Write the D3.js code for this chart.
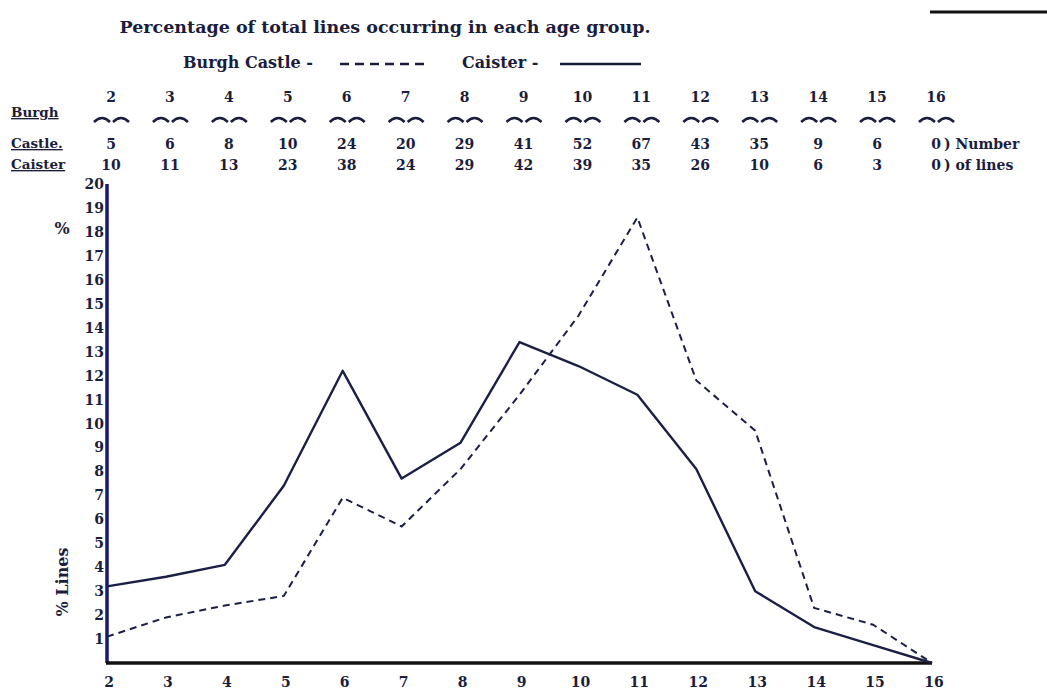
<!DOCTYPE html>
<html>
<head>
<meta charset="utf-8">
<script src="https://cdn.jsdelivr.net/npm/d3@7"></script>
<style>
  body { margin: 0; background: #fff; overflow: hidden; }
  text { font-family: "DejaVu Serif", "Liberation Serif", serif; font-weight: bold; fill: #1b1d3d; }
</style>
</head>
<body>
<div id="chart"></div>
<script>
// age groups
const ages = [2, 3, 4, 5, 6, 7, 8, 9, 10, 11, 12, 13, 14, 15, 16]
// number of lines in each age group (header table)
const burghCounts = ["5", "6", "8", "10", "24", "20", "29", "41", "52", "67", "43", "35", "9", "6", "0"]
const caisterCounts = ["10", "11", "13", "23", "38", "24", "29", "42", "39", "35", "26", "10", "6", "3", "0"]
// percentage of total lines
const burghPct = [1.1, 1.9, 2.4, 2.8, 6.9, 5.7, 8.1, 11.2, 14.5, 18.6, 11.8, 9.7, 2.3, 1.6, 0]
const caisterPct = [3.2, 3.6, 4.1, 7.4, 12.2, 7.7, 9.2, 13.4, 12.4, 11.2, 8.1, 3.0, 1.5, 0.75, 0]
const yTicks = d3.range(1, 21)

const width = 1047, height = 693
const margin = {top: 184, right: 115, bottom: 30, left: 107}
const ink = "#1b1d3d"

const svg = d3.select("#chart").append("svg")
    .attr("width", width)
    .attr("height", height)

const x = d3.scaleLinear()
    .domain([2, 16])
    .range([margin.left, width - margin.right])
const y = d3.scaleLinear()
    .domain([0, 20])
    .range([height - margin.bottom, margin.top])

// title + legend
svg.append("text")
    .attr("x", 385).attr("y", 33)
    .attr("text-anchor", "middle")
    .style("font-size", "17.5px")
    .text("Percentage of total lines occurring in each age group.")

svg.append("text")
    .attr("x", 183).attr("y", 68)
    .style("font-size", "16px")
    .text("Burgh Castle -")
svg.append("line")
    .attr("x1", 340).attr("x2", 425).attr("y1", 64).attr("y2", 64)
    .attr("stroke", ink).attr("stroke-width", 2.5)
    .attr("stroke-dasharray", "9,6")
svg.append("text")
    .attr("x", 462).attr("y", 68)
    .style("font-size", "16px")
    .text("Caister -")
svg.append("line")
    .attr("x1", 560).attr("x2", 641).attr("y1", 64).attr("y2", 64)
    .attr("stroke", ink).attr("stroke-width", 2.5)

// scan mark top right
svg.append("line")
    .attr("x1", 930).attr("x2", 1047).attr("y1", 12).attr("y2", 12)
    .attr("stroke", "#111").attr("stroke-width", 3)

// header table
const head = svg.append("g")
head.selectAll(".age-head")
  .data(ages)
  .join("text")
    .attr("class", "age-head")
    .attr("x", d => x(d) + 4)
    .attr("y", 102)
    .attr("text-anchor", "middle")
    .style("font-size", "14px")
    .text(d => d)

const arc = "m-18,0 q8,-8 16,0 m3,0 q8,-8 16,0"
head.selectAll(".brace")
  .data(ages)
  .join("path")
    .attr("class", "brace")
    .attr("d", d => `M${x(d) + 5},122 ${arc}`)
    .attr("fill", "none")
    .attr("stroke", ink)
    .attr("stroke-width", 2.5)

head.selectAll(".burgh-n")
  .data(burghCounts)
  .join("text")
    .attr("class", "burgh-n")
    .attr("x", (d, i) => x(ages[i]) + 4)
    .attr("y", 149)
    .attr("text-anchor", "middle")
    .style("font-size", "14px")
    .text(d => d)

head.selectAll(".caister-n")
  .data(caisterCounts)
  .join("text")
    .attr("class", "caister-n")
    .attr("x", (d, i) => x(ages[i]) + 4)
    .attr("y", 170)
    .attr("text-anchor", "middle")
    .style("font-size", "14px")
    .text(d => d)

const rowLabels = [["Burgh", 117], ["Castle.", 148], ["Caister", 169]]
rowLabels.forEach(([t, yy]) => {
  head.append("text")
      .attr("x", 11).attr("y", yy)
      .style("font-size", "13.5px")
      .style("text-decoration", "underline")
      .text(t)
})
head.append("text").attr("x", 944).attr("y", 149)
    .style("font-size", "14px").text(") Number")
head.append("text").attr("x", 944).attr("y", 170)
    .style("font-size", "14px").text(") of lines")

// axes
const yAxis = svg.append("g")
yAxis.selectAll("text")
  .data(yTicks)
  .join("text")
    .attr("x", margin.left - 3)
    .attr("y", d => y(d) + 5)
    .attr("text-anchor", "end")
    .style("font-size", "14px")
    .text(d => d)

svg.append("line")
    .attr("x1", x(2)).attr("x2", x(2))
    .attr("y1", y(20)).attr("y2", y(0))
    .attr("stroke", "#1a1a6a").attr("stroke-width", 3.5)
svg.append("line")
    .attr("x1", x(2) - 1).attr("x2", x(16))
    .attr("y1", y(0)).attr("y2", y(0))
    .attr("stroke", "#111").attr("stroke-width", 3.5)

svg.selectAll(".age-tick")
  .data(ages)
  .join("text")
    .attr("class", "age-tick")
    .attr("x", d => x(d) + 2)
    .attr("y", y(0) + 24)
    .attr("text-anchor", "middle")
    .style("font-size", "14px")
    .text(d => d)

svg.append("text")
    .attr("x", 62).attr("y", 234)
    .attr("text-anchor", "middle")
    .style("font-size", "16px")
    .text("%")
svg.append("text")
    .attr("transform", `translate(68, 582) rotate(-90)`)
    .attr("text-anchor", "middle")
    .style("font-size", "16px")
    .text("% Lines")

// lines
const line = d3.line()
    .x((d, i) => x(ages[i]))
    .y(d => y(d))

svg.append("path")
    .datum(caisterPct)
    .attr("d", line)
    .attr("fill", "none")
    .attr("stroke", "#1c1f45")
    .attr("stroke-width", 2.4)
    .attr("stroke-linejoin", "round")

svg.append("path")
    .datum(burghPct)
    .attr("d", line)
    .attr("fill", "none")
    .attr("stroke", "#1c1f45")
    .attr("stroke-width", 2)
    .attr("stroke-dasharray", "7,5")
</script>
</body>
</html>
